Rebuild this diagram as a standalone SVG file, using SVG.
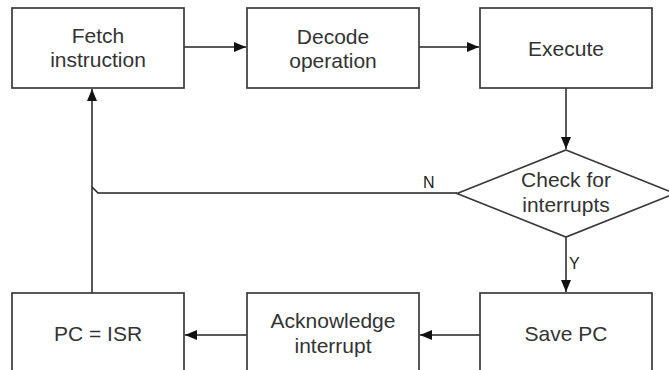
<svg xmlns="http://www.w3.org/2000/svg" width="669" height="370" viewBox="0 0 669 370">
  <style>
    .box { fill: #ffffff; stroke: #3a3a3a; stroke-width: 1.7; }
    .label { font-family: "Liberation Sans", Arial, sans-serif; font-size: 21px; fill: #333333; text-anchor: middle; }
    .small { font-family: "Liberation Sans", Arial, sans-serif; font-size: 16px; fill: #222222; }
    .wire { fill: none; stroke: #222222; stroke-width: 1.5; }
  </style>
  <defs>
    <marker id="arrow" viewBox="0 0 12 10" refX="12" refY="5" markerWidth="12" markerHeight="10" markerUnits="userSpaceOnUse" orient="auto">
      <path d="M0,0 L12,5 L0,10 Z" fill="#111111"/>
    </marker>
  </defs>
  <rect width="669" height="370" fill="#ffffff"/>

  <g id="connectors">
    <path class="wire" d="M184,47 L246,47" marker-end="url(#arrow)"/>
    <path class="wire" d="M419,47 L479,47" marker-end="url(#arrow)"/>
    <path class="wire" d="M566,88 L566,149" marker-end="url(#arrow)"/>
    <path class="wire" d="M566,237 L566,292" marker-end="url(#arrow)"/>
    <path class="wire" d="M457,193 L98,193 L92,187"/>
    <path class="wire" d="M480,335 L420,335" marker-end="url(#arrow)"/>
    <path class="wire" d="M247,335 L185,335" marker-end="url(#arrow)"/>
    <path class="wire" d="M92,293 L92,89" marker-end="url(#arrow)"/>
    <text class="small" x="423" y="188">N</text>
    <text class="small" x="569" y="269">Y</text>
  </g>

  <g id="fetch">
    <rect class="box" x="12" y="8" width="172" height="80"/>
    <text class="label" x="98" y="43">Fetch</text>
    <text class="label" x="98" y="67">instruction</text>
  </g>

  <g id="decode">
    <rect class="box" x="247" y="8" width="172" height="80"/>
    <text class="label" x="333" y="44">Decode</text>
    <text class="label" x="333" y="68">operation</text>
  </g>

  <g id="execute">
    <rect class="box" x="480" y="8" width="172" height="80"/>
    <text class="label" x="566" y="56">Execute</text>
  </g>

  <g id="check">
    <polygon class="box" points="566,150 675,193.5 566,237 457,193.5"/>
    <text class="label" x="566" y="187">Check for</text>
    <text class="label" x="566" y="212">interrupts</text>
  </g>

  <g id="save-pc">
    <rect class="box" x="480" y="293" width="172" height="90"/>
    <text class="label" x="566" y="341">Save PC</text>
  </g>

  <g id="acknowledge">
    <rect class="box" x="247" y="293" width="172" height="90"/>
    <text class="label" x="333" y="328">Acknowledge</text>
    <text class="label" x="333" y="353">interrupt</text>
  </g>

  <g id="pc-isr">
    <rect class="box" x="12" y="293" width="172" height="90"/>
    <text class="label" x="98" y="341">PC = ISR</text>
  </g>
</svg>
